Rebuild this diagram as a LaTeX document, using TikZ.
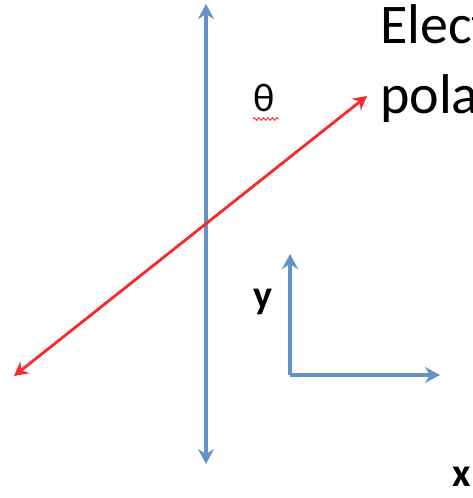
\documentclass[tikz,border=0pt]{standalone}
\usepackage{fontspec}
\setmainfont{Carlito}
\usetikzlibrary{arrows.meta,decorations.pathmorphing}
\definecolor{axblue}{RGB}{100,146,200}
\definecolor{polred}{RGB}{250,40,40}
\tikzset{
  bluetip/.tip={Stealth[length=15pt,width=16pt,inset=5pt]},
  redtip/.tip={Stealth[length=14pt,width=15pt,inset=5pt]},
  bluearrow/.style={draw=axblue,line width=3.4pt,bluetip-bluetip},
  bluesingle/.style={draw=axblue,line width=3.4pt,-bluetip},
  redarrow/.style={draw=polred,line width=2.8pt,redtip-redtip},
  lbl/.style={inner sep=0pt,font=\fontsize{40}{40}\selectfont\bfseries},
  bigtext/.style={inner sep=0pt,anchor=base west,font=\fontsize{56}{56}\selectfont}
}
\begin{document}
\begin{tikzpicture}[x=1pt,y=-1pt]
\useasboundingbox (0,0) rectangle (473,498);
\coordinate (vtop) at (206,4);
\coordinate (vbot) at (206,464);
\coordinate (rl) at (14,376);
\coordinate (rr) at (367,96);
\coordinate (o) at (290,375);
\coordinate (ytip) at (290,254);
\coordinate (xtip) at (440,375);
\draw[bluearrow] (vtop) -- (vbot);
\draw[redarrow] (rl) -- (rr);
\draw[bluesingle] (o) -- (ytip);
\draw[bluesingle] (o) -- (xtip);
\node[lbl] (ylab) at (263,302) {y};
\node[lbl] (xlab) at (462,477) {x};
\node[inner sep=0pt,font=\fontsize{40}{40}\selectfont] (theta) at (264,98) {θ};
\draw[polred,line width=0.9pt,decorate,decoration={snake,amplitude=1.3pt,segment length=4.5pt}] (253,119) -- (279,119);
\node[bigtext] (t1) at (380,43) {Elect};
\node[bigtext] (t2) at (380,113) {pola};
\end{tikzpicture}
\end{document}
